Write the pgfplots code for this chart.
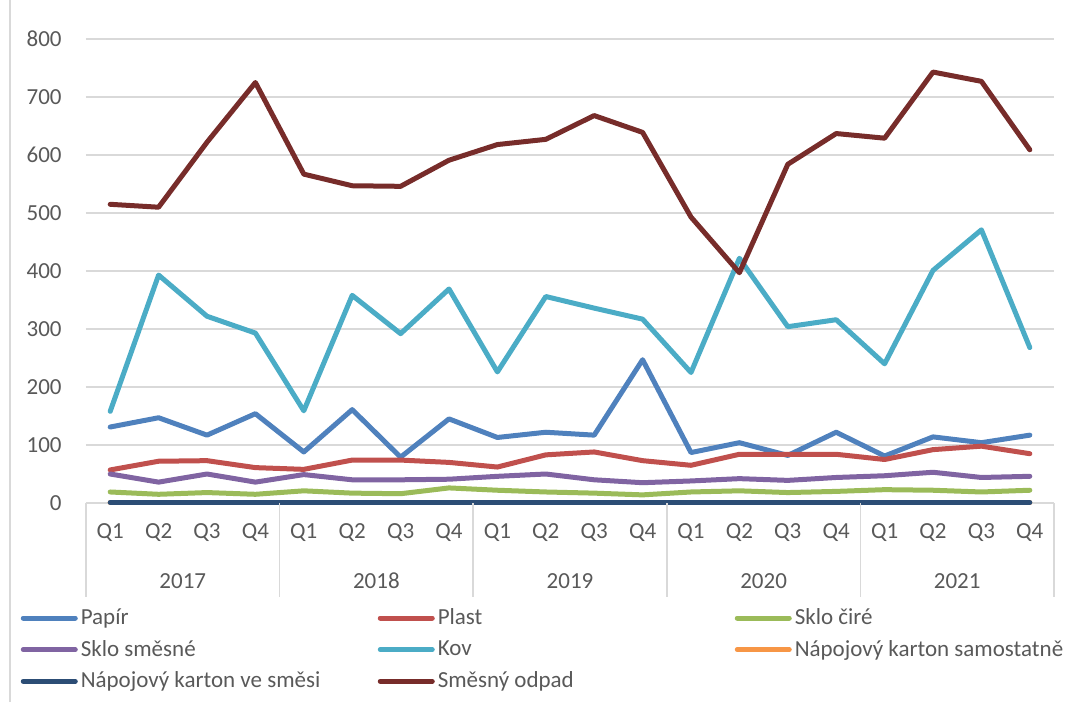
\documentclass[border=0pt]{standalone}
\usepackage{fontspec}
\setmainfont{Carlito}
\usepackage{pgfplots}
\pgfplotsset{compat=1.18}
\definecolor{cPapir}{HTML}{4F81BD}
\definecolor{cPlast}{HTML}{C0504D}
\definecolor{cSkloC}{HTML}{9BBB59}
\definecolor{cSkloS}{HTML}{8064A2}
\definecolor{cKov}{HTML}{4BACC6}
\definecolor{cKartS}{HTML}{F79646}
\definecolor{cKartM}{HTML}{2C4D75}
\definecolor{cSmes}{HTML}{772C2A}
\definecolor{gridgray}{HTML}{D9D9D9}
\definecolor{txtgray}{HTML}{595959}
\begin{document}
\begin{tikzpicture}
\useasboundingbox (-43pt,-99.5pt) rectangle (495.5pt,251.5pt);
\draw[gridgray, line width=0.6pt] (-38pt,-99.5pt) -- (-38pt,251.5pt);
\begin{axis}[
    scale only axis,
    width=484pt, height=232pt,
    xmin=-0.5, xmax=19.5,
    ymin=0, ymax=800,
    ytick={0,100,...,800},
    xtick={0,...,19},
    xticklabels={Q1,Q2,Q3,Q4,Q1,Q2,Q3,Q4,Q1,Q2,Q3,Q4,Q1,Q2,Q3,Q4,Q1,Q2,Q3,Q4},
    major tick length=0pt,
    axis x line=bottom, axis y line=left,
    x axis line style={-, draw=gridgray, line width=0.75pt},
    y axis line style={draw=none},
    ymajorgrids,
    grid style={draw=gridgray, line width=0.75pt},
    clip=false,
    /pgf/number format/assume math mode=true,
    ticklabel style={font=\fontsize{11.5}{13}\selectfont, text=txtgray},
    xticklabel style={anchor=base, yshift=-17.5pt},
    yticklabel style={anchor=east, inner sep=0pt, xshift=-12pt},
    every axis plot/.append style={line width=2.5pt, line join=round, line cap=round},
    legend columns=3,
    legend image code/.code={\draw[#1, line width=2.5pt, line cap=round] (0pt,0pt) -- (26pt,0pt);},
    legend style={draw=none, fill=none, at={(-0.074,-0.2115)}, anchor=north west,
        font=\fontsize{11.5}{13}\selectfont, text=txtgray,
        nodes={inner sep=1.5pt}, row sep=3.3pt,
        /tikz/every even column/.append style={column sep=0pt}},
]
\addplot[cPapir] coordinates {(0,131) (1,147) (2,117) (3,154) (4,88) (5,161) (6,79) (7,145) (8,113) (9,122) (10,117) (11,247) (12,87) (13,104) (14,82) (15,122) (16,81) (17,114) (18,104) (19,117)};
\addlegendentry{\makebox[147pt][l]{Papír}}
\addplot[cPlast] coordinates {(0,57) (1,72) (2,73) (3,61) (4,58) (5,74) (6,74) (7,70) (8,62) (9,83) (10,88) (11,73) (12,65) (13,84) (14,84) (15,84) (16,75) (17,92) (18,98) (19,85)};
\addlegendentry{\makebox[147pt][l]{Plast}}
\addplot[cSkloC] coordinates {(0,19) (1,15) (2,18) (3,15) (4,21) (5,17) (6,16) (7,26) (8,22) (9,19) (10,17) (11,14) (12,19) (13,21) (14,18) (15,20) (16,23) (17,22) (18,19) (19,22)};
\addlegendentry{\makebox[147pt][l]{Sklo čiré}}
\addplot[cSkloS] coordinates {(0,50) (1,36) (2,50) (3,36) (4,49) (5,40) (6,40) (7,41) (8,46) (9,50) (10,40) (11,35) (12,38) (13,42) (14,39) (15,44) (16,47) (17,53) (18,44) (19,46)};
\addlegendentry{\makebox[147pt][l]{Sklo směsné}}
\addplot[cKov] coordinates {(0,158) (1,393) (2,322) (3,293) (4,159) (5,358) (6,292) (7,369) (8,226) (9,356) (10,336) (11,317) (12,225) (13,422) (14,304) (15,316) (16,240) (17,401) (18,471) (19,268)};
\addlegendentry{\makebox[147pt][l]{Kov}}
\addplot[cKartS] coordinates {(0,0.5) (1,0.5) (2,0.5) (3,0.5) (4,0.5) (5,0.5) (6,0.5) (7,0.5) (8,0.5) (9,0.5) (10,0.5) (11,0.5) (12,0.5) (13,0.5) (14,0.5) (15,0.5) (16,0.5) (17,0.5) (18,0.5) (19,0.5)};
\addlegendentry{\makebox[147pt][l]{Nápojový karton samostatně}}
\addplot[cKartM] coordinates {(0,1) (1,1) (2,1) (3,1) (4,1) (5,1) (6,1) (7,1) (8,1) (9,1) (10,1) (11,1) (12,1) (13,1) (14,1) (15,1) (16,1) (17,1) (18,1) (19,1)};
\addlegendentry{\makebox[147pt][l]{Nápojový karton ve směsi}}
\addplot[cSmes] coordinates {(0,515) (1,510) (2,622) (3,725) (4,567) (5,547) (6,546) (7,591) (8,618) (9,627) (10,668) (11,639) (12,493) (13,397) (14,584) (15,637) (16,629) (17,743) (18,727) (19,609)};
\addlegendentry{\makebox[147pt][l]{Směsný odpad}}
\pgfplotsinvokeforeach{-0.5,3.5,7.5,11.5,15.5,19.5}{
  \draw[gridgray, line width=0.75pt] (axis cs:#1,0) -- ++(0pt,-47pt);
}
\node[anchor=base, font=\fontsize{11.5}{13}\selectfont, text=txtgray] at ([yshift=-42.5pt]axis cs:1.5,0) {2017};
\node[anchor=base, font=\fontsize{11.5}{13}\selectfont, text=txtgray] at ([yshift=-42.5pt]axis cs:5.5,0) {2018};
\node[anchor=base, font=\fontsize{11.5}{13}\selectfont, text=txtgray] at ([yshift=-42.5pt]axis cs:9.5,0) {2019};
\node[anchor=base, font=\fontsize{11.5}{13}\selectfont, text=txtgray] at ([yshift=-42.5pt]axis cs:13.5,0) {2020};
\node[anchor=base, font=\fontsize{11.5}{13}\selectfont, text=txtgray] at ([yshift=-42.5pt]axis cs:17.5,0) {2021};
\end{axis}
\end{tikzpicture}
\end{document}
